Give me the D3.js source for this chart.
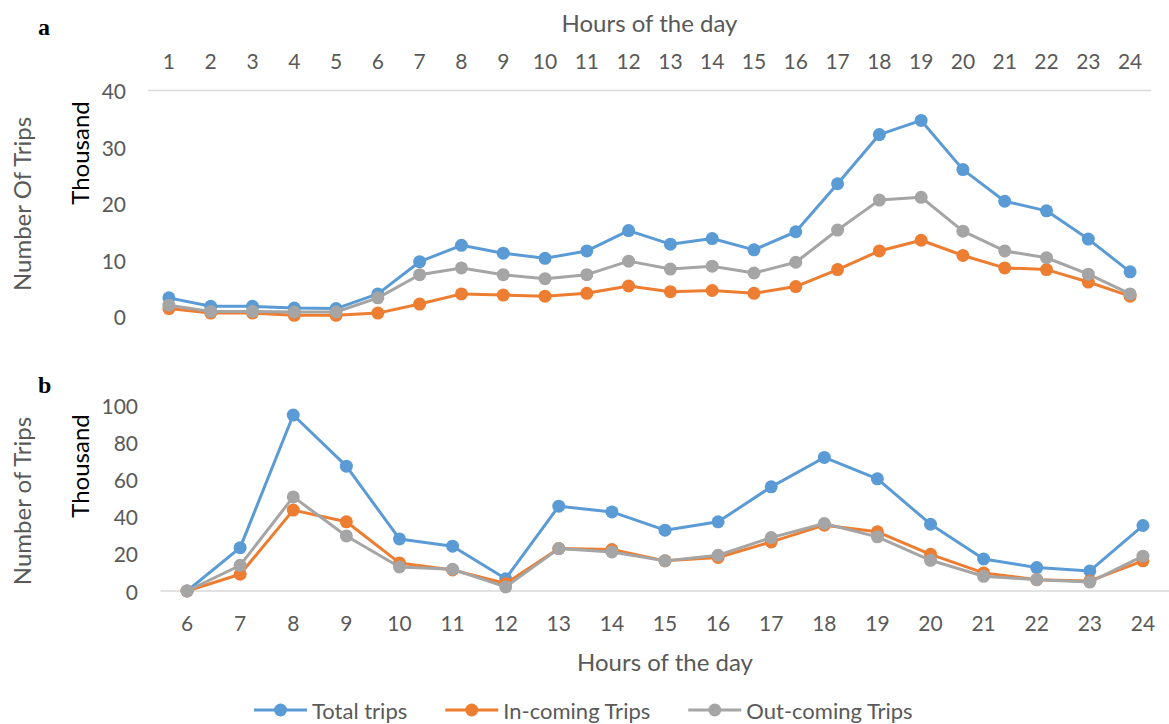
<!DOCTYPE html>
<html>
<head>
<meta charset="utf-8">
<script src="https://cdn.jsdelivr.net/npm/d3@7"></script>
<style>
  body { margin: 0; background: #fff; }
  svg { display: block; }
</style>
</head>
<body>
<svg id="chart" width="1169" height="724"></svg>
<script>
// panel a: hours 1..24 (thousand trips)
var hoursA = d3.range(1, 25);
var totalA = [3.3, 1.8, 1.8, 1.5, 1.4, 4.0, 9.7, 12.6, 11.2, 10.3, 11.6, 15.2, 12.8, 13.8, 11.8, 15.0, 23.5, 32.2, 34.7, 26.0, 20.4, 18.7, 13.7, 7.9];
var inA    = [1.4, 0.6, 0.6, 0.2, 0.2, 0.6, 2.2, 4.0, 3.8, 3.6, 4.1, 5.4, 4.4, 4.6, 4.1, 5.3, 8.3, 11.6, 13.5, 10.8, 8.6, 8.3, 6.1, 3.6];
var outA   = [2.0, 0.9, 0.9, 0.8, 0.8, 3.3, 7.4, 8.6, 7.4, 6.7, 7.4, 9.8, 8.4, 8.9, 7.7, 9.6, 15.3, 20.6, 21.1, 15.1, 11.6, 10.4, 7.5, 4.0];

// panel b: hours 6..24 (thousand trips)
var hoursB = d3.range(6, 25);
var totalB = [0, 23.3, 94.6, 67.1, 28.0, 24.1, 6.6, 45.6, 42.5, 32.7, 37.2, 56.0, 71.8, 60.3, 35.9, 17.2, 12.6, 10.8, 35.2];
var inB    = [0, 9.0, 43.5, 37.2, 15.1, 11.3, 4.0, 22.8, 22.3, 16.2, 18.0, 26.4, 35.4, 31.8, 19.7, 9.7, 6.1, 5.4, 16.2];
var outB   = [0, 13.8, 50.6, 29.6, 12.9, 11.7, 2.2, 22.8, 21.0, 16.2, 19.2, 28.7, 36.3, 29.1, 16.5, 7.9, 6.1, 4.8, 18.7];

var seriesNames = ["Total trips", "In-coming Trips", "Out-coming Trips"];
var colors = ["#5B9BD5", "#ED7D31", "#A5A5A5"];

var font = "Lato, 'Open Sans', sans-serif";
var textGray = "#595959";
var svg = d3.select("#chart");

function drawPanel(opt) {
    var x = d3.scaleBand().domain(opt.hours).range(opt.xRange);
    var y = d3.scaleLinear().domain(opt.yDomain).range(opt.yRange);
    var g = svg.append("g");

    // horizontal axis line
    var lineY = opt.axisTop ? y(opt.yDomain[1]) : y(0);
    g.append("line")
        .attr("x1", opt.xRange[0]).attr("x2", opt.xRange[1])
        .attr("y1", lineY).attr("y2", lineY)
        .attr("stroke", "#D9D9D9").attr("stroke-width", 1.5);

    // x tick labels
    g.selectAll("text.xt")
        .data(opt.hours)
        .enter().append("text")
        .attr("class", "xt")
        .attr("x", function (d) { return x(d) + x.bandwidth() / 2; })
        .attr("y", opt.xLabelY)
        .attr("text-anchor", "middle")
        .attr("dominant-baseline", "central")
        .style("font-family", font).style("font-size", "21px").style("fill", textGray)
        .text(function (d) { return d; });

    // y tick labels
    g.selectAll("text.yt")
        .data(y.ticks(5))
        .enter().append("text")
        .attr("class", "yt")
        .attr("x", opt.yLabelX)
        .attr("y", function (d) { return y(d); })
        .attr("text-anchor", "end")
        .attr("dominant-baseline", "central")
        .style("font-family", font).style("font-size", "21px").style("fill", textGray)
        .text(function (d) { return d; });

    // x title
    g.append("text")
        .attr("x", (opt.xRange[0] + opt.xRange[1]) / 2)
        .attr("y", opt.xTitleY)
        .attr("text-anchor", "middle")
        .attr("dominant-baseline", "central")
        .style("font-family", font).style("font-size", "24px").style("fill", textGray)
        .text("Hours of the day");

    // y titles
    g.append("text")
        .attr("transform", "translate(21," + opt.yTitleMid + ") rotate(-90)")
        .attr("text-anchor", "middle")
        .attr("dominant-baseline", "central")
        .style("font-family", font).style("font-size", "24px").style("fill", textGray)
        .text(opt.yTitle);
    g.append("text")
        .attr("transform", "translate(79," + opt.thousandMid + ") rotate(-90)")
        .attr("text-anchor", "middle")
        .attr("dominant-baseline", "central")
        .style("font-family", font).style("font-size", "24px").style("fill", "#000")
        .text("Thousand");

    // panel letter
    g.append("text")
        .attr("x", 38).attr("y", opt.letterY)
        .style("font-family", "'Liberation Serif', 'Times New Roman', serif")
        .style("font-weight", "bold").style("font-size", "24px").style("fill", "#000")
        .text(opt.letter);

    var line = d3.line()
        .x(function (d, i) { return x(opt.hours[i]) + x.bandwidth() / 2; })
        .y(function (d) { return y(d); });

    opt.series.forEach(function (vals, k) {
        g.append("path")
            .datum(vals)
            .attr("d", line)
            .attr("fill", "none")
            .attr("stroke", colors[k])
            .attr("stroke-width", 3)
            .attr("stroke-linejoin", "round");
        g.selectAll("circle.s" + k)
            .data(vals)
            .enter().append("circle")
            .attr("class", "s" + k)
            .attr("cx", function (d, i) { return x(opt.hours[i]) + x.bandwidth() / 2; })
            .attr("cy", function (d) { return y(d); })
            .attr("r", 6.5)
            .attr("fill", colors[k]);
    });
}

drawPanel({
    hours: hoursA, series: [totalA, inA, outA],
    xRange: [148, 1151], yDomain: [0, 40], yRange: [316.5, 90.5],
    axisTop: true, xLabelY: 60, xTitleY: 22, yLabelX: 126,
    yTitle: "Number Of Trips", yTitleMid: 204, thousandMid: 153,
    letter: "a", letterY: 35
});

drawPanel({
    hours: hoursB, series: [totalB, inB, outB],
    xRange: [160.5, 1169.5], yDomain: [0, 100], yRange: [591, 405],
    axisTop: false, xLabelY: 622, xTitleY: 661, yLabelX: 138,
    yTitle: "Number of Trips", yTitleMid: 501, thousandMid: 466,
    letter: "b", letterY: 393
});

// legend
var legend = svg.append("g");
var lx = 254, ly = 710;
seriesNames.forEach(function (name, k) {
    legend.append("line")
        .attr("x1", lx).attr("x2", lx + 53)
        .attr("y1", ly).attr("y2", ly)
        .attr("stroke", colors[k]).attr("stroke-width", 3);
    legend.append("circle")
        .attr("cx", lx + 26.5).attr("cy", ly).attr("r", 6.5)
        .attr("fill", colors[k]);
    var t = legend.append("text")
        .attr("x", lx + 58).attr("y", ly)
        .attr("dominant-baseline", "central")
        .style("font-family", font).style("font-size", "22px").style("fill", textGray)
        .text(name);
    lx = lx + 58 + t.node().getComputedTextLength() + 38;
});
</script>
</body>
</html>
